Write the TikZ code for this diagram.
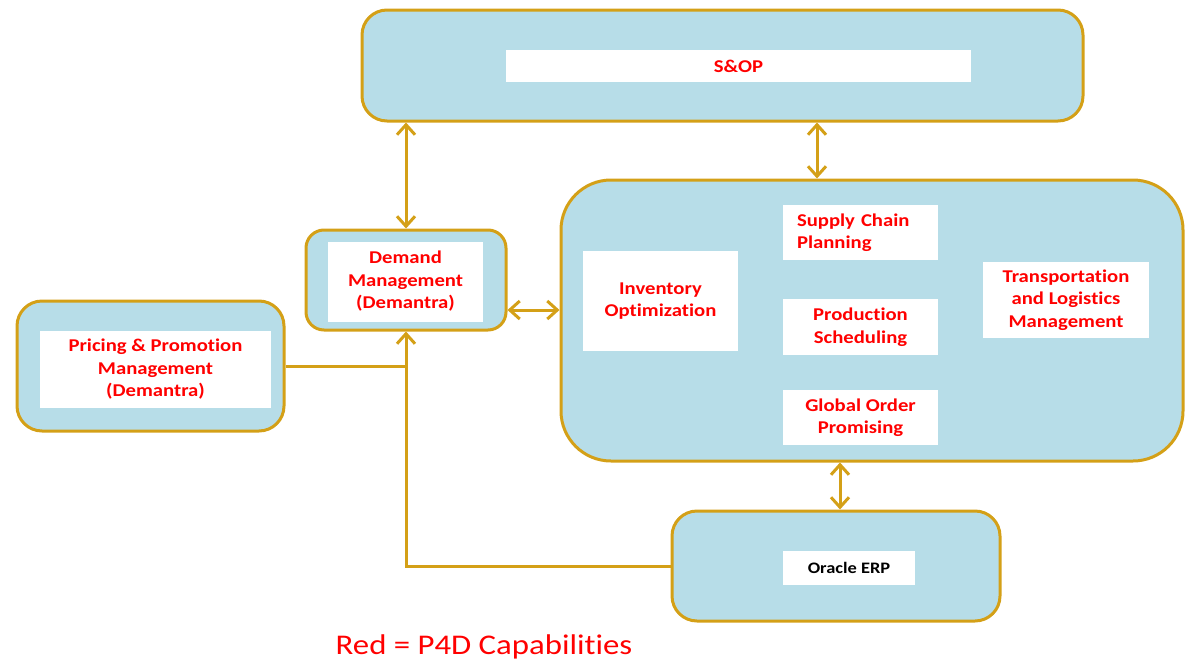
\documentclass[tikz,border=0pt]{standalone}
\usepackage{fontspec}
\setmainfont{Carlito}[FakeStretch=1.15, Ligatures=CommonOff]
\usetikzlibrary{arrows.meta}
\definecolor{boxfill}{HTML}{B7DDE8}
\definecolor{gold}{HTML}{D4A017}
\definecolor{capred}{HTML}{FF0000}
\begin{document}
\begin{tikzpicture}[x=1pt,y=-1pt,
  >={Straight Barb[length=10pt,width=18pt]},
  container/.style={draw=gold, line width=3pt, fill=boxfill, rounded corners=#1, inner sep=0pt},
  whitebox/.style={fill=white, inner sep=0pt, align=center, font=\bfseries\fontsize{18}{22.5}\selectfont, text=capred},
  link/.style={draw=gold, line width=3pt}
]
\useasboundingbox (0,0) rectangle (1186,659);

% containers
\node[container=25pt, minimum width=721pt, minimum height=111pt] (sop) at (722.5,65.5) {};
\node[container=18pt, minimum width=200pt, minimum height=100pt] (dm) at (406,280) {};
\node[container=50pt, minimum width=622pt, minimum height=281pt] (big) at (872,320.5) {};
\node[container=25pt, minimum width=267pt, minimum height=130pt] (pp) at (150.5,366) {};
\node[container=25pt, minimum width=328pt, minimum height=110pt] (erp) at (836,566) {};

% white text boxes
\node[whitebox, minimum width=465pt, minimum height=32pt] (sopt) at (738.5,66) {S\&OP};
\node[whitebox, minimum width=155pt, minimum height=80pt] (dmt) at (405.5,281.5) {Demand\\Management\\(Demantra)};
\node[whitebox, minimum width=155pt, minimum height=100pt] (inv) at (660.5,301) {Inventory\\Optimization};
\node[whitebox, align=left, text width=127pt, minimum width=155pt, minimum height=55pt] (scp) at (860.5,232.5) {Supply Chain\\Planning};
\node[whitebox, minimum width=155pt, minimum height=56pt] (ps) at (860.5,327) {Production\\Scheduling};
\node[whitebox, minimum width=155pt, minimum height=55pt] (gop) at (860.5,417.5) {Global Order\\Promising};
\node[whitebox, minimum width=166pt, minimum height=76pt] (tlm) at (1066,300) {Transportation\\and Logistics\\Management};
\node[whitebox, minimum width=231pt, minimum height=77pt] (ppt) at (155.5,369.5) {Pricing \& Promotion\\Management\\(Demantra)};
\node[whitebox, text=black, font=\bfseries\fontsize{16}{20}\selectfont, minimum width=132pt, minimum height=34pt] (erpt) at (849,568) {Oracle ERP};

% helper coordinates for connector positions
\coordinate (v1) at (817,0);
\coordinate (v2) at (840,0);
\coordinate (h1) at (0,310);

% connectors
\draw[link, <->] (sop.south -| dm.north) -- (dm.north);
\draw[link, <->] (v1 |- sop.south) -- (v1 |- big.north);
\draw[link, <->] (dm.east |- h1) -- (big.west |- h1);
\draw[link, <->] (v2 |- big.south) -- (v2 |- erp.north);
\draw[link, ->] (erp.west) -| (dm.south);
\draw[link] (pp.east) -- (pp.east -| dm.south);

% legend
\node[text=capred, font=\fontsize{28.5}{34}\selectfont, inner sep=0pt, anchor=base] (legend) at (484,654) {Red = P4D Capabilities};
\end{tikzpicture}
\end{document}
